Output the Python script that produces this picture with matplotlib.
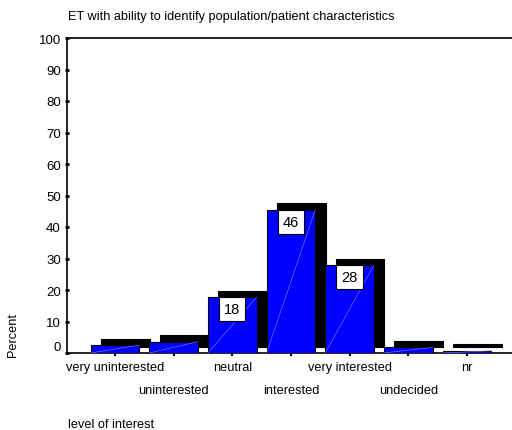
import matplotlib
matplotlib.use("Agg")
import matplotlib.pyplot as plt
from matplotlib.patches import Rectangle

plt.rcParams["font.family"] = ["Liberation Sans", "DejaVu Sans"]

# ── Données ──────────────────────────────────────────────────────────────────
categories = ["very uninterested", "uninterested", "neutral", "interested",
              "very interested", "undecided", "nr"]
percent    = [2.5, 3.6, 17.7, 45.5, 27.9, 1.8, 0.7]
shown      = {2: "18", 3: "46", 4: "28"}   # étiquettes affichées
yticks     = [0, 10, 20, 30, 40, 50, 60, 70, 80, 90, 100]

TITLE  = "ET with ability to identify population/patient characteristics"
XLABEL = "level of interest"
YLABEL = "Percent"

# ── Style ────────────────────────────────────────────────────────────────────
W, H = 512, 431
BAR_W  = 0.83
DX, DY = 0.18, 2.05          # décalage de l'ombre 3D
BLUE   = "#0000FF"

fig = plt.figure(figsize=(W / 100, H / 100), dpi=100)
ax = fig.add_axes([67 / W, 77 / H, 1 - 67 / W, 315 / H])
ax.set_xlim(-0.818, 6.77)
ax.set_ylim(0, 100)

xs = list(range(len(categories)))
for i, v in zip(xs, percent):
    # ombre noire
    ax.add_patch(Rectangle((i - BAR_W / 2 + DX, DY), BAR_W, v,
                           facecolor="black", edgecolor="black", lw=0.8, zorder=2))
for i, v in zip(xs, percent):
    ax.add_patch(Rectangle((i - BAR_W / 2, 0), BAR_W, v,
                           facecolor=BLUE, edgecolor="black", lw=0.8, zorder=3))
    ax.plot([i - BAR_W / 2, i + BAR_W / 2], [0, v], color="#8a8aff", lw=0.4, zorder=4)

for i, txt in shown.items():
    ax.annotate(txt, (i, percent[i]), xytext=(0, -8.7), textcoords="offset points",
                ha="center", va="center", fontsize=10.5, zorder=5,
                bbox=dict(boxstyle="square,pad=0.35", facecolor="white",
                          edgecolor="black", lw=0.8))

# axes
ax.spines["right"].set_visible(False)
for s in ["left", "top", "bottom"]:
    ax.spines[s].set_linewidth(1.2)

ax.set_yticks(yticks)
ax.tick_params(axis="y", direction="inout", length=3, width=2, labelsize=9.5, pad=3)
ax.yaxis.get_major_ticks()[0].label1.set_verticalalignment("bottom")

ax.set_xticks(xs[0::2])
ax.set_xticklabels(categories[0::2])
ax.set_xticks(xs[1::2], minor=True)
ax.set_xticklabels(categories[1::2], minor=True)
ax.tick_params(axis="x", which="both", direction="out", length=2, width=1.5,
               labelsize=9.2)
ax.tick_params(axis="x", which="major", pad=4)
ax.tick_params(axis="x", which="minor", pad=20)

fig.text(68 / W, 1 - 17 / H, TITLE, ha="left", va="center", fontsize=9.2)
fig.text(68 / W, 1 - 425 / H, XLABEL, ha="left", va="center", fontsize=9.2)
fig.text(13 / W, 1 - 335 / H, YLABEL, ha="center", va="center", rotation=90,
         fontsize=9.2)

fig.savefig("out.png", dpi=100)
